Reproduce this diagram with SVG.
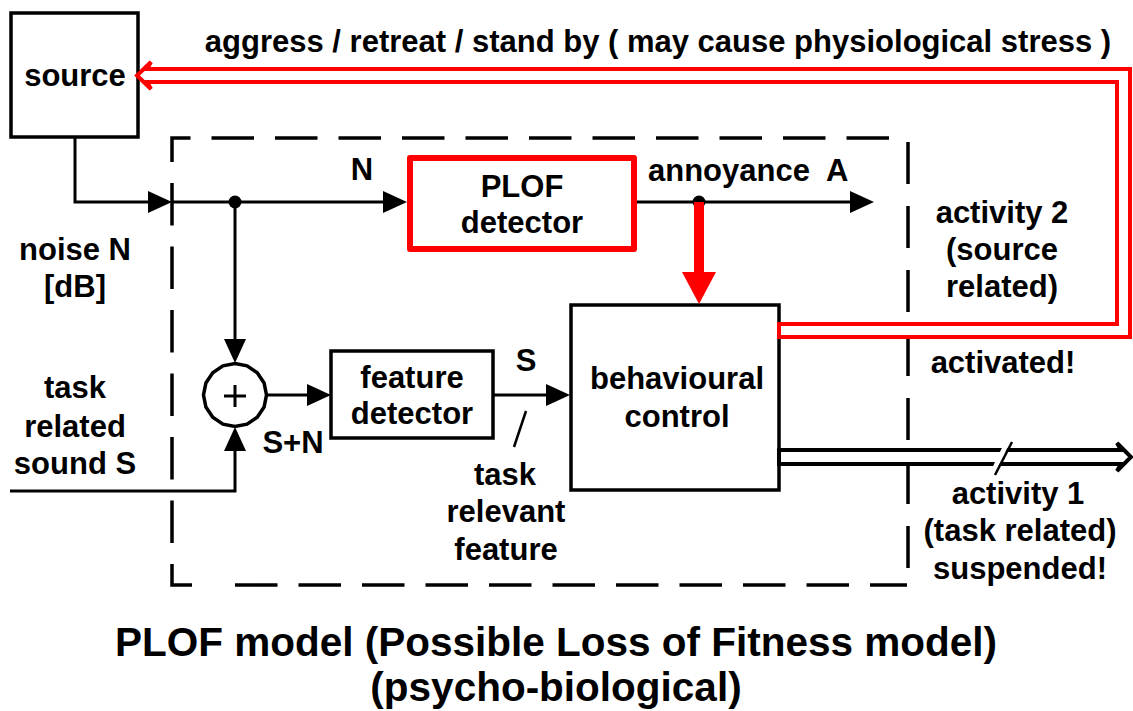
<svg xmlns="http://www.w3.org/2000/svg" width="1133" height="711" viewBox="0 0 1133 711">
  <style>
    .t { font-family: "Liberation Sans", Arial, Helvetica, sans-serif; font-weight: bold; font-size: 31px; text-anchor: middle; fill: #000; }
    .title { font-size: 40.5px; }
    .box { fill: #fff; stroke: #000; stroke-width: 3.5; }
    .red-box { fill: #fff; stroke: #ff0000; stroke-width: 6; stroke-linejoin: round; }
    .wire { fill: none; stroke: #000; stroke-width: 3; }
    .dash { fill: none; stroke: #000; stroke-width: 3.5; stroke-dasharray: 42.5 21; }
  </style>
  <defs>
    <marker id="arr" markerUnits="userSpaceOnUse" markerWidth="24" markerHeight="24" viewBox="0 0 24 24" refX="20" refY="12" orient="auto">
      <path d="M0 1 L24 12 L0 23 Z" fill="#000"/>
    </marker>
  </defs>
  <rect width="1133" height="711" fill="#fff"/>

  <!-- system boundary (dashed) -->
  <g id="boundary">
    <path class="dash" d="M889 138 H172 V585 H192"/>
    <path class="dash" d="M235 585 H907"/>
    <path class="dash" d="M908 142 V568" style="stroke-dasharray: 42 22"/>
  </g>

  <g id="source">
    <rect class="box" x="11" y="13" width="127" height="124"/>
    <text class="t" x="75" y="86">source</text>
  </g>

  <g id="plof-detector">
    <rect class="red-box" x="410" y="158" width="224" height="91"/>
    <text class="t" x="522" y="197">PLOF</text>
    <text class="t" x="522" y="233">detector</text>
  </g>

  <g id="summer">
    <polygon fill="#fff" stroke="#000" stroke-width="3.5" points="235,363.5 247.05,365.9 257.27,372.73 264.1,382.95 266.5,395 264.1,407.05 257.27,417.27 247.05,424.1 235,426.5 222.95,424.1 212.73,417.27 205.9,407.05 203.5,395 205.9,382.95 212.73,372.73 222.95,365.9"/>
    <path d="M224 396 H246 M235 385 V407" stroke="#000" stroke-width="3" fill="none"/>
  </g>

  <g id="feature-detector">
    <rect class="box" x="331" y="351" width="162" height="87"/>
    <text class="t" x="412" y="388">feature</text>
    <text class="t" x="412" y="424">detector</text>
  </g>

  <g id="behavioural-control">
    <rect class="box" x="571" y="305" width="208" height="185"/>
    <text class="t" x="677" y="389">behavioural</text>
    <text class="t" x="677" y="427">control</text>
  </g>

  <g id="connectors">
    <!-- noise path -->
    <path class="wire" d="M75 138 V202 H168" marker-end="url(#arr)"/>
    <path class="wire" d="M172 202 H403" marker-end="url(#arr)"/>
    <circle cx="235" cy="202" r="6.5" fill="#000"/>
    <path class="wire" d="M235 202 V359" marker-end="url(#arr)"/>
    <!-- task related sound -->
    <path class="wire" d="M10 491 H235 V431" marker-end="url(#arr)"/>
    <!-- S+N to feature detector -->
    <path class="wire" d="M267 395 H327" marker-end="url(#arr)"/>
    <!-- S to behavioural control -->
    <path class="wire" d="M493 395 H566" marker-end="url(#arr)"/>
    <line x1="526" y1="411" x2="514" y2="447" stroke="#000" stroke-width="2.5"/>
    <!-- annoyance output -->
    <path class="wire" d="M637 202 H870" marker-end="url(#arr)"/>
    <circle cx="699" cy="202" r="6.5" fill="#000"/>
    <!-- annoyance drives behavioural control -->
    <line x1="699" y1="202" x2="699" y2="274" stroke="#ff0000" stroke-width="10"/>
    <polygon points="682,272 716,272 699,304" fill="#ff0000"/>
    <!-- activity 2 feedback to source (double line) -->
    <path d="M779 324 H1117 V82 H147 L151 89 L137 75.5 L151 62 L147 69 H1130 V337 H779 Z" fill="#fff" stroke="#ff0000" stroke-width="4" stroke-linejoin="miter"/>
    <!-- activity 1 output (double line) -->
    <path d="M779 450 H1121 L1117 443 L1131 457 L1117 471 L1121 464 H779 Z" fill="#fff" stroke="#000" stroke-width="4"/>
    <line x1="1008" y1="441" x2="991" y2="476" stroke="#fff" stroke-width="5"/>
    <line x1="1012" y1="442" x2="995" y2="475" stroke="#000" stroke-width="2.5"/>
  </g>

  <g id="labels">
    <text class="t" x="658" y="52">aggress / retreat / stand by ( may cause physiological stress )</text>
    <text class="t" x="362" y="180">N</text>
    <text class="t" x="648" y="181" style="text-anchor: start" xml:space="preserve">annoyance  A</text>
    <text class="t" x="75" y="260">noise N</text>
    <text class="t" x="75" y="297">[dB]</text>
    <text class="t" x="75" y="398">task</text>
    <text class="t" x="75" y="437">related</text>
    <text class="t" x="75" y="474">sound S</text>
    <text class="t" x="293" y="453">S+N</text>
    <text class="t" x="526" y="371">S</text>
    <text class="t" x="505" y="485">task</text>
    <text class="t" x="506" y="522">relevant</text>
    <text class="t" x="506" y="560">feature</text>
    <text class="t" x="1002" y="223">activity 2</text>
    <text class="t" x="1002" y="260">(source</text>
    <text class="t" x="1002" y="297">related)</text>
    <text class="t" x="1003" y="373">activated!</text>
    <text class="t" x="1018" y="504">activity 1</text>
    <text class="t" x="1020" y="541">(task related)</text>
    <text class="t" x="1020" y="579">suspended!</text>
    <text class="t title" x="556" y="656">PLOF model (Possible Loss of Fitness model)</text>
    <text class="t title" x="556" y="701">(psycho-biological)</text>
  </g>
</svg>
